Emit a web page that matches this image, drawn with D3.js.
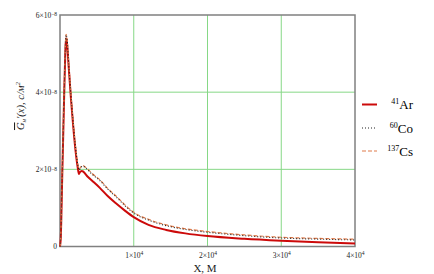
<!DOCTYPE html>
<html><head><meta charset="utf-8">
<script src="https://cdn.jsdelivr.net/npm/d3@7"></script>
<style>body{margin:0;background:#fff}svg{display:block}</style>
</head><body>
<svg id="c" width="434" height="274"></svg>
<script>
// ---- data (x in metres, values in units of 1e-8) ----
const arX = [0,100,300,500,700,800,900,1200,1500,1800,2100,2400,2570,2700,2950,3150,3800,4500,5400,6500,7700,8800,10000,12000,14400,17000,20000,25000,30000,35000,40000];
const arY = [0,0.2,1.8,3.4,4.9,5.4,5.35,4.6,3.8,3.1,2.5,2.05,1.88,1.93,1.96,1.94,1.8,1.68,1.52,1.3,1.1,0.93,0.76,0.56,0.43,0.34,0.27,0.2,0.15,0.11,0.08];
const csX = [0,100,300,500,700,820,950,1200,1500,1800,2100,2400,2600,2800,3100,3500,4300,5400,6500,7700,8800,9900,12200,14400,16700,19000,22000,25000,30000,35000,40000];
const csY = [0,0.25,1.9,3.5,5.0,5.5,5.4,4.7,3.9,3.2,2.6,2.15,2.0,2.06,2.1,2.05,1.9,1.73,1.5,1.29,1.08,0.9,0.69,0.56,0.47,0.41,0.35,0.3,0.24,0.21,0.19];
const coX = csX;
const coY = [0,0.25,1.9,3.5,5.0,5.48,5.38,4.68,3.88,3.18,2.58,2.13,1.98,2.04,2.08,2.03,1.88,1.71,1.48,1.27,1.06,0.88,0.67,0.54,0.45,0.39,0.33,0.28,0.22,0.19,0.17];
const xTicks = [10000,20000,30000,40000];
const xTickLabels = [["1×10","4"],["2×10","4"],["3×10","4"],["4×10","4"]];
const yTicks = [0,2e-8,4e-8,6e-8];
const yTickLabels = [["0",""],["2×10","−8"],["4×10","−8"],["6×10","−8"]];
const seriesNames = ["41Ar","60Co","137Cs"];

const svg = d3.select("#c");
const x = d3.scaleLinear().domain([0,40000]).range([60,355]);
const y = d3.scaleLinear().domain([0,6e-8]).range([246.5,15]);

// grid
const grid = svg.append("g");
grid.selectAll("line.gx").data([10000,20000,30000]).enter().append("line")
  .attr("x1",d=>x(d)).attr("x2",d=>x(d)).attr("y1",y(0)).attr("y2",y(6e-8))
  .attr("stroke","#86d886").attr("stroke-width",1);
grid.selectAll("line.gy").data([2e-8,4e-8]).enter().append("line")
  .attr("x1",x(0)).attr("x2",x(40000)).attr("y1",d=>y(d)).attr("y2",d=>y(d))
  .attr("stroke","#86d886").attr("stroke-width",1);

// frame
svg.append("rect").attr("x",x(0)).attr("y",y(6e-8)).attr("width",x(40000)-x(0)).attr("height",y(0)-y(6e-8))
  .attr("fill","none").attr("stroke","#808080").attr("stroke-width",1.5);

// axes (labels only)
const yAxis = svg.append("g").attr("transform",`translate(${x(0)},0)`)
  .call(d3.axisLeft(y).tickValues(yTicks).tickSize(0).tickPadding(3));
yAxis.select(".domain").remove();
yAxis.selectAll("text").each(function(d,i){
  const t = d3.select(this).text("").attr("font-family","Liberation Serif").attr("font-size",7.5).attr("fill","#222").attr("dy","0.3em");
  const lab = yTickLabels[i];
  t.append("tspan").text(lab[0]);
  if(lab[1]) t.append("tspan").attr("font-size",5.5).attr("dy","-0.25em").text(lab[1]);
});
const xAxis = svg.append("g").attr("transform",`translate(0,${y(0)})`)
  .call(d3.axisBottom(x).tickValues(xTicks).tickSize(0).tickPadding(6));
xAxis.select(".domain").remove();
xAxis.selectAll("text").each(function(d,i){
  const t = d3.select(this).text("").attr("font-family","Liberation Serif").attr("font-size",7.5).attr("fill","#222").attr("dy","0.71em");
  const lab = xTickLabels[i];
  t.append("tspan").text(lab[0]);
  t.append("tspan").attr("font-size",5.5).attr("dy","-0.5em").text(lab[1]);
});

// curves
const line = (xs,ys)=>d3.line().curve(d3.curveMonotoneX).x((d,i)=>x(xs[i])).y(d=>y(d*1e-8))(ys);
svg.append("path").attr("d",line(arX,arY)).attr("fill","none").attr("stroke","#cc0a0a").attr("stroke-width",2);
svg.append("path").attr("d",line(csX,csY)).attr("fill","none").attr("stroke","#e07a4a").attr("stroke-width",1.2).attr("stroke-dasharray","4,2");
svg.append("path").attr("d",line(coX,coY)).attr("fill","none").attr("stroke","#222").attr("stroke-width",1.1).attr("stroke-dasharray","1,2");

// legend
const leg = [
  {sup:"41", base:"Ar", y:104.5, stroke:"#cc0a0a", w:2, dash:null},
  {sup:"60", base:"Co", y:128, stroke:"#222", w:1.1, dash:"1,2"},
  {sup:"137", base:"Cs", y:151, stroke:"#e07a4a", w:1.2, dash:"4,2"}
];
leg.forEach(l=>{
  svg.append("line").attr("x1",362).attr("x2",377).attr("y1",l.y).attr("y2",l.y)
    .attr("stroke",l.stroke).attr("stroke-width",l.w).attr("stroke-dasharray",l.dash);
  const t = svg.append("text").attr("x",413).attr("y",l.y+4.5).attr("text-anchor","end")
    .attr("font-family","Liberation Serif").attr("font-size",13).attr("fill","#000");
  t.append("tspan").attr("font-size",8).attr("dy",-5).text(l.sup);
  t.append("tspan").attr("dy",5).text(l.base);
});

// axis titles
const yl = svg.append("text").attr("transform","translate(24,106) rotate(-90)").attr("text-anchor","middle")
  .attr("font-family","Liberation Serif").attr("font-size",10.5).attr("font-style","italic").attr("fill","#222");
yl.append("tspan").attr("style","text-decoration:overline").text("G");
yl.append("tspan").attr("font-size",7).attr("dy",2).text("н");
yl.append("tspan").attr("dy",-2).text("′(x), c/м");
yl.append("tspan").attr("font-size",7).attr("dy",-4).text("2");

svg.append("text").attr("x",205).attr("y",272).attr("text-anchor","middle")
  .attr("font-family","Liberation Serif").attr("font-size",11).attr("fill","#222").text("Х, М");
</script>
</body></html>
